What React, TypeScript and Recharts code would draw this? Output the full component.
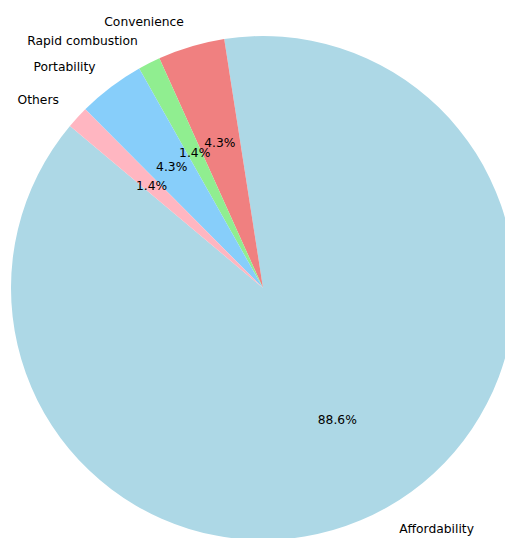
import { PieChart, Pie, Cell } from 'recharts';

const reasons = ['Affordability', 'Convenience', 'Rapid combustion', 'Portability', 'Others'];
const counts = [62, 3, 1, 3, 1];
const colors = ['#add8e6', '#f08080', '#90ee90', '#87cefa', '#ffb6c1'];

const data = reasons.map((name, i) => ({ name, value: counts[i] }));

const RADIAN = Math.PI / 180;

function renderLabel(props: any) {
  const { cx, cy, midAngle, outerRadius, percent, name } = props;
  const cos = Math.cos(-midAngle * RADIAN);
  const sin = Math.sin(-midAngle * RADIAN);
  const ox = cx + outerRadius * 1.1 * cos;
  const oy = cy + outerRadius * 1.1 * sin;
  const ix = cx + outerRadius * 0.6 * cos;
  const iy = cy + outerRadius * 0.6 * sin;
  return (
    <g>
      <text x={ox} y={oy} textAnchor={cos >= 0 ? 'start' : 'end'} dominantBaseline="central" fill="#000" fontSize={12.3}>
        {name}
      </text>
      <text x={ix} y={iy} textAnchor="middle" dominantBaseline="central" fill="#000" fontSize={12.3}>
        {(percent * 100).toFixed(1)}%
      </text>
    </g>
  );
}

export default function App() {
  return (
    <div style={{ position: 'absolute', left: 0, top: 0, width: 505, height: 538, background: '#fff', fontFamily: '"DejaVu Sans", sans-serif' }}>
      <PieChart width={505} height={538} margin={{ top: 0, right: 0, bottom: 0, left: 0 }}>
        <Pie
          data={data}
          dataKey="value"
          nameKey="name"
          cx={263}
          cy={288}
          outerRadius={252}
          startAngle={140}
          endAngle={500}
          stroke="none"
          label={renderLabel}
          labelLine={false}
          isAnimationActive={false}
        >
          {data.map((d, i) => (
            <Cell key={d.name} fill={colors[i]} />
          ))}
        </Pie>
      </PieChart>
    </div>
  );
}
